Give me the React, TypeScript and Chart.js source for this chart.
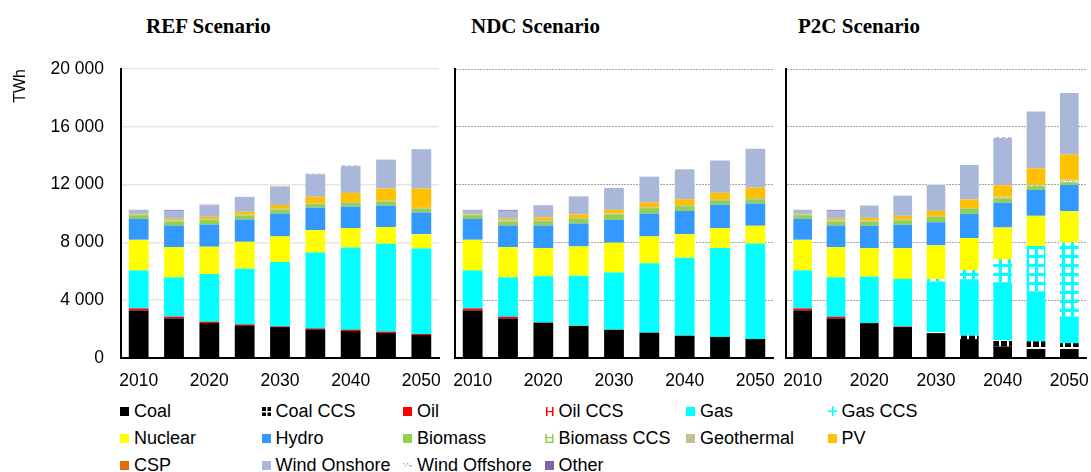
import React, { useEffect, useRef } from 'react';
import { Chart, registerables } from 'chart.js';

Chart.register(...registerables);

// ---------- categories & ticks ----------
const years = ['2010', '2015', '2020', '2025', '2030', '2035', '2040', '2045', '2050'];
const xTickLabels = ['2010', '', '2020', '', '2030', '', '2040', '', '2050'];
const yMin = 0;
const yMax = 20000;
const yStep = 4000;
const yTitle = 'TWh';

const scenarioTitles = ['REF Scenario', 'NDC Scenario', 'P2C Scenario'];

const seriesNames = [
  'Coal', 'Coal CCS', 'Oil', 'Oil CCS', 'Gas', 'Gas CCS',
  'Nuclear', 'Hydro', 'Biomass', 'Biomass CCS', 'Geothermal', 'PV',
  'CSP', 'Wind Onshore', 'Wind Offshore', 'Other',
];

const NONE = [0, 0, 0, 0, 0, 0, 0, 0, 0];

// ---------- REF scenario (TWh) ----------
const REF_COAL = [3290, 2740, 2420, 2260, 2140, 1980, 1870, 1730, 1590];
const REF_OIL = [140, 120, 90, 70, 50, 70, 90, 90, 70];
const REF_GAS = [2630, 2720, 3300, 3850, 4450, 5250, 5690, 6080, 5920];
const REF_NUCLEAR = [2120, 2090, 1890, 1860, 1770, 1550, 1340, 1160, 990];
const REF_HYDRO = [1450, 1500, 1540, 1550, 1590, 1560, 1490, 1490, 1500];
const REF_BIOMASS = [250, 280, 300, 270, 270, 240, 260, 280, 260];
const REF_GEO = [70, 60, 60, 50, 50, 50, 50, 50, 60];
const REF_PV = [30, 120, 170, 210, 270, 460, 640, 850, 1330];
const REF_WIND_ON = [230, 560, 810, 1030, 1290, 1560, 1850, 2000, 2730];
const REF_WIND_OFF = [0, 0, 20, 30, 40, 50, 60, 70, 80];
const REF_OTHER = [40, 60, 20, 0, 0, 0, 0, 0, 0];

// ---------- NDC scenario (TWh) ----------
const NDC_COAL = [3290, 2740, 2440, 2210, 1950, 1750, 1540, 1450, 1310];
const NDC_OIL = [140, 120, 20, 20, 10, 10, 10, 10, 10];
const NDC_GAS = [2630, 2720, 3200, 3470, 3950, 4790, 5390, 6150, 6610];
const NDC_NUCLEAR = [2120, 2090, 1950, 2020, 2070, 1860, 1630, 1380, 1220];
const NDC_HYDRO = [1450, 1500, 1560, 1590, 1580, 1590, 1610, 1630, 1540];
const NDC_BIOMASS = [250, 280, 300, 320, 370, 370, 330, 300, 300];
const NDC_GEO = [70, 60, 60, 60, 60, 60, 70, 70, 80];
const NDC_PV = [30, 120, 190, 240, 260, 330, 410, 440, 720];
const NDC_WIND_ON = [230, 560, 850, 1260, 1520, 1790, 2060, 2240, 2690];
const NDC_WIND_OFF = [0, 0, 20, 30, 40, 60, 70, 80, 90];
const NDC_OTHER = [40, 60, 0, 0, 0, 0, 0, 0, 0];

// ---------- P2C scenario (TWh) ----------
const P2C_COAL = [3290, 2740, 2410, 2140, 1720, 1310, 800, 620, 620];
const P2C_COAL_CCS = [0, 0, 0, 0, 70, 230, 420, 530, 410];
const P2C_OIL = [140, 120, 20, 40, 10, 10, 0, 0, 0];
const P2C_GAS = [2630, 2720, 3200, 3290, 3490, 3900, 4000, 3450, 1840];
const P2C_GAS_CCS = [0, 0, 0, 0, 180, 640, 1610, 3150, 5130];
const P2C_NUCLEAR = [2120, 2090, 1980, 2140, 2320, 2210, 2200, 2090, 2160];
const P2C_HYDRO = [1450, 1500, 1540, 1610, 1610, 1680, 1710, 1790, 1820];
const P2C_BIOMASS = [250, 280, 300, 320, 370, 340, 320, 260, 180];
const P2C_BIOMASS_CCS = [0, 0, 0, 0, 0, 0, 40, 60, 100];
const P2C_GEO = [70, 60, 60, 60, 60, 60, 60, 60, 80];
const P2C_PV = [30, 120, 190, 240, 350, 590, 800, 1120, 1750];
const P2C_WIND_ON = [230, 560, 850, 1400, 1800, 2390, 3260, 3930, 4250];
const P2C_WIND_OFF = [0, 0, 20, 30, 40, 60, 70, 80, 90];
const P2C_OTHER = [40, 60, 0, 0, 0, 0, 0, 0, 0];

const REF_DATA = [REF_COAL, NONE, REF_OIL, NONE, REF_GAS, NONE, REF_NUCLEAR, REF_HYDRO, REF_BIOMASS, NONE, REF_GEO, REF_PV, NONE, REF_WIND_ON, REF_WIND_OFF, REF_OTHER];
const NDC_DATA = [NDC_COAL, NONE, NDC_OIL, NONE, NDC_GAS, NONE, NDC_NUCLEAR, NDC_HYDRO, NDC_BIOMASS, NONE, NDC_GEO, NDC_PV, NONE, NDC_WIND_ON, NDC_WIND_OFF, NDC_OTHER];
const P2C_DATA = [P2C_COAL, P2C_COAL_CCS, P2C_OIL, NONE, P2C_GAS, P2C_GAS_CCS, P2C_NUCLEAR, P2C_HYDRO, P2C_BIOMASS, P2C_BIOMASS_CCS, P2C_GEO, P2C_PV, NONE, P2C_WIND_ON, P2C_WIND_OFF, P2C_OTHER];

// ---------- styles ----------
const C_WIND = '#A9B8D8';
const solidColors: Record<string, string> = {
  'Coal': '#000000',
  'Oil': '#FF0000',
  'Gas': '#00FFFF',
  'Nuclear': '#FFFF00',
  'Hydro': '#3399FF',
  'Biomass': '#92D050',
  'Geothermal': '#C4BD97',
  'PV': '#FFC000',
  'CSP': '#E36C09',
  'Wind Onshore': C_WIND,
  'Other': '#8064A2',
};

const SANS = '"Liberation Sans", Arial, Helvetica, sans-serif';
const SERIF = '"Liberation Serif", "Times New Roman", Times, serif';

function makeTile(w: number, h: number, draw: (c: CanvasRenderingContext2D) => void): CanvasPattern {
  const cv = document.createElement('canvas');
  cv.width = w;
  cv.height = h;
  const ctx = cv.getContext('2d')!;
  draw(ctx);
  return ctx.createPattern(cv, 'repeat')!;
}

function buildPatterns(): Record<string, CanvasPattern> {
  return {
    'Coal CCS': makeTile(8, 8, (c) => {
      c.fillStyle = '#000'; c.fillRect(0, 0, 8, 8);
      c.fillStyle = '#fff'; c.fillRect(3, 0, 2, 8); c.fillRect(0, 3, 8, 2);
    }),
    'Oil CCS': makeTile(6, 6, (c) => {
      c.fillStyle = '#fff'; c.fillRect(0, 0, 6, 6);
      c.fillStyle = '#FF0000'; c.fillRect(0, 0, 1, 6); c.fillRect(4, 0, 1, 6); c.fillRect(0, 3, 5, 1);
    }),
    'Gas CCS': makeTile(9, 9, (c) => {
      c.fillStyle = '#fff'; c.fillRect(0, 0, 9, 9);
      c.fillStyle = '#00FFFF'; c.fillRect(3, 0, 3, 9); c.fillRect(0, 3, 9, 3);
    }),
    'Biomass CCS': makeTile(6, 6, (c) => {
      c.fillStyle = '#fff'; c.fillRect(0, 0, 6, 6);
      c.fillStyle = '#92D050'; c.fillRect(0, 0, 1, 6); c.fillRect(4, 0, 1, 6); c.fillRect(0, 5, 5, 1); c.fillRect(0, 2, 5, 1);
    }),
    'Wind Offshore': makeTile(6, 4, (c) => {
      c.fillStyle = '#fff'; c.fillRect(0, 0, 6, 4);
      c.fillStyle = C_WIND; c.fillRect(0, 1, 3, 1);
    }),
  };
}

function fmtThousands(v: number): string {
  return String(v).replace(/\B(?=(\d{3})+(?!\d))/g, ' ');
}

type PanelProps = {
  data: number[][];
  left: number;
  width: number;
  axisWidth: number;
  padRight: number;
  showYAxis: boolean;
  dotted: boolean;
};

function Panel({ data, left, width, axisWidth, padRight, showYAxis, dotted }: PanelProps) {
  const ref = useRef<HTMLCanvasElement | null>(null);
  useEffect(() => {
    const canvas = ref.current!;
    const patterns = buildPatterns();
    const datasets = seriesNames.map((name, i) => ({
      label: name,
      data: data[i],
      backgroundColor: (patterns[name] || solidColors[name]) as any,
      borderWidth: 0,
      stack: 's',
      barPercentage: 0.56,
      categoryPercentage: 1,
    }));
    const tickFont = { family: SANS, size: 17.5 };
    const chart = new Chart(canvas, {
      type: 'bar',
      data: { labels: years, datasets },
      options: {
        responsive: false,
        maintainAspectRatio: false,
        animation: false,
        events: [],
        layout: { padding: { left: 0, top: 69, right: padRight, bottom: 0 } },
        plugins: {
          legend: { display: false },
          tooltip: { enabled: false },
          title: { display: false },
        },
        scales: {
          x: {
            stacked: true,
            grid: {
              display: true,
              drawOnChartArea: false,
              drawTicks: true,
              tickLength: 13,
              tickColor: 'rgba(0,0,0,0)',
            },
            border: { display: true, color: '#000', width: 2 },
            ticks: {
              autoSkip: false,
              maxRotation: 0,
              minRotation: 0,
              padding: 0,
              color: '#000',
              font: tickFont,
              callback: (_v: any, i: number) => xTickLabels[i],
            },
            afterFit: (s: any) => { s.height = 42; },
          },
          y: {
            stacked: true,
            min: yMin,
            max: yMax,
            ticks: {
              stepSize: yStep,
              display: showYAxis,
              padding: 17,
              color: '#000',
              font: tickFont,
              callback: (v: any) => fmtThousands(Number(v)),
            },
            grid: {
              color: dotted ? '#A6A6A6' : '#E9E6D9',
              lineWidth: dotted ? 1 : 1.5,
              drawTicks: false,
            },
            border: { display: true, color: '#000', width: 2, dash: dotted ? [2, 1] : [] },
            title: {
              display: showYAxis,
              text: yTitle,
              align: 'end',
              color: '#000',
              font: { family: SANS, size: 16 },
              padding: { top: 11, bottom: 0 },
            },
            afterFit: (s: any) => { s.width = axisWidth; },
          },
        },
      } as any,
    });
    return () => chart.destroy();
  }, []);
  return (
    <canvas
      ref={ref}
      width={width}
      height={400}
      style={{ position: 'absolute', left, top: 0, width, height: 400 }}
    />
  );
}

function Swatch({ name }: { name: string }) {
  const ref = useRef<HTMLCanvasElement | null>(null);
  useEffect(() => {
    const c = ref.current!.getContext('2d')!;
    c.clearRect(0, 0, 10, 11);
    if (name === 'Coal CCS') {
      c.fillStyle = '#000'; c.fillRect(0, 1, 9, 9);
      c.fillStyle = '#fff'; c.fillRect(4, 1, 1.5, 9); c.fillRect(0, 5, 9, 1.5);
    } else if (name === 'Oil CCS') {
      c.fillStyle = '#FF0000'; c.fillRect(1, 1, 1.5, 9); c.fillRect(7, 1, 1.5, 9); c.fillRect(1, 5, 7, 1.2);
    } else if (name === 'Gas CCS') {
      c.fillStyle = '#00FFFF'; c.fillRect(4, 0, 1.5, 10); c.fillRect(0, 4.5, 9, 1.5);
    } else if (name === 'Biomass CCS') {
      c.fillStyle = '#92D050'; c.fillRect(0.5, 1, 1.5, 9); c.fillRect(7, 1, 1.5, 9); c.fillRect(0.5, 8.5, 8, 1.5); c.fillRect(0.5, 4, 8, 1.2);
    } else if (name === 'Wind Offshore') {
      c.fillStyle = C_WIND; c.fillRect(0, 3, 1.5, 1.5); c.fillRect(2, 5, 1.5, 1.5); c.fillRect(4, 3, 1.5, 1.5); c.fillRect(6, 5, 3, 1.5);
    } else {
      c.fillStyle = solidColors[name]; c.fillRect(0, 1, 9, 9);
    }
  }, [name]);
  return <canvas ref={ref} width={10} height={11} style={{ width: 10, height: 11, marginRight: 4, display: 'block' }} />;
}

const legendTextX = [134, 275.5, 417, 558.5, 700, 841.5];
const legendRowY = [411, 438, 465];

export default function App() {
  return (
    <div style={{ position: 'absolute', left: 0, top: 0, width: 1091, height: 472, background: '#fff', overflow: 'hidden' }}>
      {scenarioTitles.map((t, i) => (
        <div
          key={t}
          style={{
            position: 'absolute',
            left: [146, 471, 798][i],
            top: 13,
            fontFamily: SERIF,
            fontWeight: 'bold',
            fontSize: 21,
            lineHeight: '26px',
            color: '#000',
            whiteSpace: 'nowrap',
          }}
        >
          {t}
        </div>
      ))}
      <Panel data={REF_DATA} left={0} width={445} axisWidth={121} padRight={6} showYAxis={true} dotted={false} />
      <Panel data={NDC_DATA} left={449} width={330} axisWidth={6} padRight={6} showYAxis={false} dotted={true} />
      <Panel data={P2C_DATA} left={780} width={311} axisWidth={6} padRight={5} showYAxis={false} dotted={true} />
      {seriesNames.map((name, i) => {
        const col = i % 6;
        const row = Math.floor(i / 6);
        return (
          <div
            key={name}
            style={{
              position: 'absolute',
              left: legendTextX[col] - 14,
              top: legendRowY[row] - 11,
              height: 22,
              display: 'flex',
              alignItems: 'center',
              fontFamily: SANS,
              fontSize: 18,
              color: '#000',
              whiteSpace: 'nowrap',
            }}
          >
            <Swatch name={name} />
            <span>{name}</span>
          </div>
        );
      })}
    </div>
  );
}
